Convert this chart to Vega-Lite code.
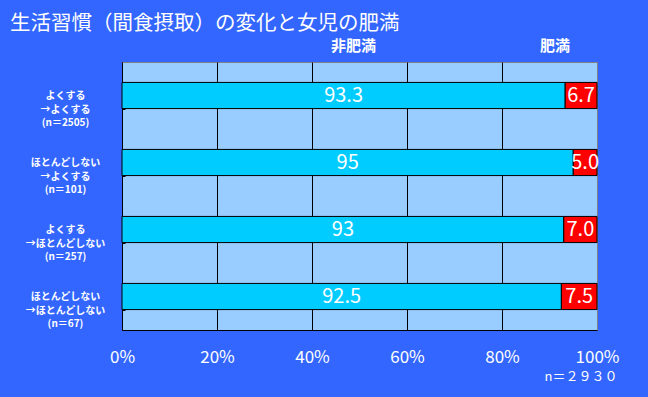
{
  "$schema": "https://vega.github.io/schema/vega-lite/v6.json",
  "width": 475,
  "height": 268,
  "autosize": {"type": "none"},
  "padding": {"left": 122, "top": 62, "right": 51, "bottom": 67},
  "background": "#3366FF",
  "title": {
    "text": "生活習慣（間食摂取）の変化と女児の肥満",
    "anchor": "start",
    "frame": "group",
    "dx": -112,
    "dy": 18,
    "offset": 6,
    "color": "white",
    "fontSize": 20.5,
    "font": "Noto Sans CJK JP",
    "fontWeight": "normal",
    "baseline": "alphabetic"
  },
  "data": {
    "values": [
      {"cat": "　　　よくする|　　　　→よくする|　　　(n＝2505)", "group": "非肥満", "value": 93.3, "label": "93.3"},
      {"cat": "　　　よくする|　　　　→よくする|　　　(n＝2505)", "group": "肥満", "value": 6.7, "label": "6.7"},
      {"cat": "　　　ほとんどしない|　　　　→よくする|　　　(n＝101)", "group": "非肥満", "value": 95, "label": "95"},
      {"cat": "　　　ほとんどしない|　　　　→よくする|　　　(n＝101)", "group": "肥満", "value": 5.0, "label": "5.0"},
      {"cat": "よくする|　→ほとんどしない|(n＝257)", "group": "非肥満", "value": 93, "label": "93"},
      {"cat": "よくする|　→ほとんどしない|(n＝257)", "group": "肥満", "value": 7.0, "label": "7.0"},
      {"cat": "ほとんどしない|　→ほとんどしない|(n＝67)", "group": "非肥満", "value": 92.5, "label": "92.5"},
      {"cat": "ほとんどしない|　→ほとんどしない|(n＝67)", "group": "肥満", "value": 7.5, "label": "7.5"}
    ]
  },
  "layer": [
    {
      "mark": {"type": "bar", "stroke": "black", "strokeWidth": 1},
      "encoding": {
        "y": {
          "field": "cat",
          "type": "nominal",
          "sort": null,
          "scale": {"paddingInner": 0.61, "paddingOuter": 0.305},
          "axis": {
            "title": null,
            "labelExpr": "split(datum.label, '|')",
            "labelColor": "white",
            "labelFont": "Noto Sans CJK JP",
            "labelFontWeight": "bold",
            "labelFontSize": 10,
            "labelLineHeight": 13.5,
            "labelAlign": "center",
            "labelBaseline": "middle",
            "labelLimit": 0,
            "labelPadding": 60,
            "domainColor": "black",
            "domainWidth": 1,
            "ticks": true,
            "tickBand": "extent",
            "tickColor": "black",
            "tickSize": -3,
            "grid": false
          }
        },
        "x": {
          "field": "value",
          "type": "quantitative",
          "stack": "zero",
          "scale": {"domain": [0, 100], "nice": false},
          "axis": {
            "title": "n＝２９３０",
            "titleColor": "white",
            "titleFont": "Noto Sans CJK JP",
            "titleFontSize": 13,
            "titleFontWeight": "normal",
            "titleAlign": "right",
            "titleBaseline": "alphabetic",
            "titleX": 495,
            "titleY": 50,
            "values": [0, 20, 40, 60, 80, 100],
            "labelExpr": "datum.value + '%'",
            "labelColor": "white",
            "labelFont": "Noto Sans CJK JP",
            "labelFontSize": 17,
            "labelFlush": false,
            "labelPadding": 19,
            "ticks": false,
            "domainColor": "black",
            "grid": true,
            "gridColor": {"condition": {"test": "datum.value == 100", "value": "#808080"}, "value": "black"},
            "gridOpacity": 1,
            "gridWidth": 1
          }
        },
        "color": {
          "field": "group",
          "type": "nominal",
          "scale": {"domain": ["非肥満", "肥満"], "range": ["#00CCFF", "#FF0000"]},
          "legend": {
            "orient": "none",
            "direction": "horizontal",
            "legendX": 194,
            "legendY": -24,
            "title": null,
            "symbolSize": 0,
            "symbolStrokeWidth": 0,
            "symbolOpacity": 0,
            "labelOffset": 0,
            "columnPadding": 148,
            "labelColor": "white",
            "labelFont": "Noto Sans CJK JP",
            "labelFontSize": 15,
            "labelFontWeight": "bold",
            "labelBaseline": "middle"
          }
        },
        "order": {"field": "group", "sort": "descending"}
      }
    },
    {
      "transform": [
        {"stack": "value", "groupby": ["cat"], "sort": [{"field": "group", "order": "descending"}], "as": ["v0", "v1"]},
        {"fold": ["v0", "v1"], "as": ["k", "pos"]}
      ],
      "mark": {"type": "text", "color": "white", "fontSize": 20, "font": "Noto Sans CJK JP", "baseline": "middle", "align": "center"},
      "encoding": {
        "y": {"field": "cat", "type": "nominal", "sort": null},
        "x": {"aggregate": "mean", "field": "pos", "type": "quantitative"},
        "text": {"field": "label"},
        "detail": {"field": "group"}
      }
    }
  ],
  "config": {"view": {"fill": "#99CCFF", "stroke": "#808080"}}
}
